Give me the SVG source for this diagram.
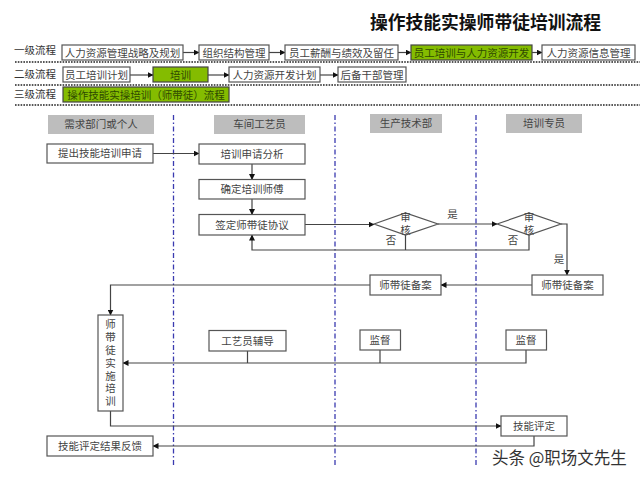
<svg xmlns="http://www.w3.org/2000/svg" width="640" height="480" viewBox="0 0 640 480">
<style>
text{font-family:"Liberation Serif","Noto Sans CJK SC",serif;text-anchor:middle;fill:#444;font-size:10.5px}
.t{font-size:17.800px;font-weight:700;fill:#111}
.l{font-size:10.5px;fill:#333}
.b{fill:#fff;stroke:#555;stroke-width:1.2}
.g{fill:#84bc00;stroke:#444;stroke-width:1.2}
.h{fill:#bdbdbd}
.gt{fill:#2f4a00}
.c{fill:none;stroke:#444;stroke-width:1.2}
.a{marker-end:url(#ah)}
.d{stroke:#222;stroke-width:1.4;stroke-dasharray:1.6 1.2;fill:none}
.v{stroke:#3a3ab0;stroke-width:1.3;stroke-dasharray:5 2.5 1.5 2.5;fill:none}
.w{font-size:16.500px;fill:#333;text-anchor:start;font-family:"Noto Sans CJK SC",sans-serif}
</style>
<defs><marker id="ah" markerUnits="userSpaceOnUse" markerWidth="6" markerHeight="6" refX="5.5" refY="3" orient="auto"><path d="M0 0L6 3L0 6Z" fill="#111"/></marker></defs>
<rect width="640" height="480" fill="#fff"/>
<text id="title" class="t" x="485.500" y="29">操作技能实操师带徒培训流程</text>
<g id="separators">
<path class="d" d="M15 62H640M15 85H640M15 105H640"/>
</g>
<g id="lanes">
<path class="v" d="M173.500 115V465M335 115V465M476 115V465"/>
</g>
<g id="levels">
<text class="l" x="35" y="54">一级流程</text>
<text class="l" x="35" y="78">二级流程</text>
<text class="l" x="35" y="98">三级流程</text>
</g>
<g id="connectors">
<path class="c a" d="M183 52.500H199"/>
<path class="c a" d="M269 52.500H285"/>
<path class="c a" d="M398 52.500H411"/>
<path class="c a" d="M532 52.500H542"/>
<path class="c a" d="M130 75H153"/>
<path class="c a" d="M208 75H229"/>
<path class="c a" d="M320 75H338"/>
<path class="c a" d="M153 153.500H199"/>
<path class="c a" d="M252 164V179.500"/>
<path class="c a" d="M252 199V214.500"/>
<path class="c a" d="M305 224.500H374"/>
<path class="c a" d="M438 224H497"/>
<path class="c a" d="M561 224H567V275"/>
<path class="c" d="M405.500 235V250"/>
<path class="c a" d="M529 235V250H252V235"/>
<path class="c a" d="M532 285H441"/>
<path class="c a" d="M370 285H110.500V315"/>
<path class="c a" d="M526 350V363H123"/>
<path class="c" d="M247.500 351V363"/>
<path class="c" d="M380 350V363"/>
<path class="c a" d="M110.500 411V426H501"/>
<path class="c a" d="M534 436V446H153"/>
</g>
<g id="n-l1-1"><rect class="b" x="62" y="45" width="121" height="15"/><text x="122.500" y="56.500">人力资源管理战略及规划</text></g>
<g id="n-l1-2"><rect class="b" x="199" y="45" width="70" height="15"/><text x="234" y="56.500">组织结构管理</text></g>
<g id="n-l1-3"><rect class="b" x="285" y="45" width="113" height="15"/><text x="341.500" y="56.500">员工薪酬与绩效及留任</text></g>
<g id="n-l1-4"><rect class="g" x="411" y="45" width="121" height="15"/><text class="gt" x="471.500" y="56.500">员工培训与人力资源开发</text></g>
<g id="n-l1-5"><rect class="b" x="542" y="45" width="93" height="15"/><text x="588.500" y="56.500">人力资源信息管理</text></g>
<g id="n-l2-1"><rect class="b" x="63" y="67" width="67" height="15"/><text x="96.500" y="78.500">员工培训计划</text></g>
<g id="n-l2-2"><rect class="g" x="153" y="67" width="55" height="15"/><text class="gt" x="180.500" y="78.500">培训</text></g>
<g id="n-l2-3"><rect class="b" x="229" y="67" width="91" height="15"/><text x="274.500" y="78.500">人力资源开发计划</text></g>
<g id="n-l2-4"><rect class="b" x="338" y="67" width="68" height="15"/><text x="372" y="78.500">后备干部管理</text></g>
<g id="n-l3-1"><rect class="g" x="63" y="87" width="166" height="15"/><text class="gt" x="146" y="98.500">操作技能实操培训（师带徒）流程</text></g>
<g id="h-1"><rect class="h" x="48" y="115" width="106" height="19"/><text x="101" y="128">需求部门或个人</text></g>
<g id="h-2"><rect class="h" x="214" y="115" width="91" height="19"/><text x="259.500" y="128">车间工艺员</text></g>
<g id="h-3"><rect class="h" x="370" y="114" width="72" height="19"/><text x="406" y="127">生产技术部</text></g>
<g id="h-4"><rect class="h" x="506" y="114" width="76" height="19"/><text x="544" y="127">培训专员</text></g>
<g id="n-apply"><rect class="b" x="47" y="144" width="106" height="19"/><text x="100" y="157">提出技能培训申请</text></g>
<g id="n-analyse"><rect class="b" x="199" y="144" width="106" height="20"/><text x="252" y="158">培训申请分析</text></g>
<g id="n-master"><rect class="b" x="199" y="179.500" width="106" height="19.500"/><text x="252" y="193">确定培训师傅</text></g>
<g id="n-sign"><rect class="b" x="199" y="214.500" width="106" height="20.500"/><text x="252" y="229">签定师带徒协议</text></g>
<g id="d-1"><path class="b" d="M374 224L405.500 213L438 224L405.500 235Z"/><text x="405.500" y="221">审</text><text x="405.500" y="234">核</text></g>
<g id="d-2"><path class="b" d="M497 224L529 213L561 224L529 235Z"/><text x="529" y="221">审</text><text x="529" y="234">核</text></g>
<g id="n-file1"><rect class="b" x="370" y="275" width="71" height="20"/><text x="405.500" y="289">师带徒备案</text></g>
<g id="n-file2"><rect class="b" x="532" y="275" width="71" height="20"/><text x="567.500" y="289">师带徒备案</text></g>
<g id="n-train"><rect class="b" x="98" y="315" width="25" height="96"/>
<text x="110.500" y="328">师</text><text x="110.500" y="341">带</text><text x="110.500" y="354">徒</text><text x="110.500" y="367">实</text><text x="110.500" y="380">施</text><text x="110.500" y="392">培</text><text x="110.500" y="405">训</text></g>
<g id="n-coach"><rect class="b" x="209" y="330.500" width="77" height="20.500"/><text x="247.500" y="344.500">工艺员辅导</text></g>
<g id="n-sup1"><rect class="b" x="360" y="330" width="40.500" height="20"/><text x="380" y="344">监督</text></g>
<g id="n-sup2"><rect class="b" x="506" y="330" width="40.500" height="20"/><text x="526" y="344">监督</text></g>
<g id="n-eval"><rect class="b" x="501" y="416" width="66" height="20"/><text x="534" y="430">技能评定</text></g>
<g id="n-feedback"><rect class="b" x="47" y="436" width="106" height="20"/><text x="100" y="450">技能评定结果反馈</text></g>
<g id="labels">
<text x="452.500" y="218">是</text>
<text x="391" y="244">否</text>
<text x="513" y="244">否</text>
<text x="559" y="263">是</text>
</g>
<text id="watermark" class="w" x="492" y="464">头条 @职场文先生</text>
</svg>
